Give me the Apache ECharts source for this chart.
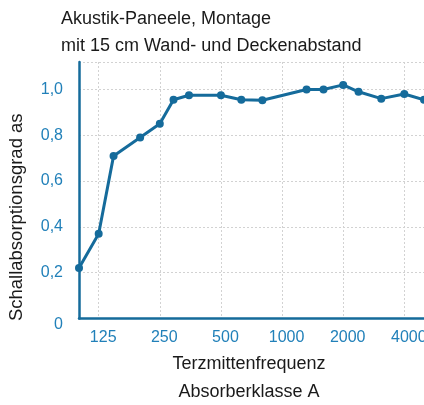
<!DOCTYPE html>
<html>
<head>
<meta charset="utf-8">
<script src="https://cdn.jsdelivr.net/npm/echarts@6/dist/echarts.min.js"></script>
<style>
  html, body { margin: 0; padding: 0; background: #fff; }
  #chart { width: 424px; height: 405px; }
</style>
</head>
<body>
<div id="chart"></div>
<script>
// Third-octave centre frequencies (Hz) of the measured points
const freqHz = [100, 125, 148, 200, 250, 292, 348, 500, 630, 800, 1320, 1600, 2000, 2380, 3080, 4000, 5000];
// Sound absorption coefficient at each frequency
const alphaS = [0.22, 0.37, 0.71, 0.79, 0.85, 0.955, 0.975, 0.975, 0.955, 0.953, 1.0, 1.0, 1.02, 0.99, 0.96, 0.98, 0.955];
// Octave frequencies shown on the x axis
const octaveTicks = [125, 250, 500, 1000, 2000, 4000];
// Absorption values shown on the y axis
const alphaTicks = [0, 0.2, 0.4, 0.6, 0.8, 1.0];

const titleLines = ['Akustik-Paneele, Montage', 'mit 15 cm Wand- und Deckenabstand'];
const xName = ['Terzmittenfrequenz', 'Absorberklasse A'];
const yName = 'Schallabsorptionsgrad as';

const FONT = '"Liberation Sans", Arial, sans-serif';
const BLUE = '#156b9b';
const LABEL_BLUE = '#2180b9';

// The frequency axis is logarithmic: positions are octaves relative to 125 Hz
const REF_HZ = 125;
const toOct = f => Math.log2(f / REF_HZ);
const fromOct = v => Math.round(REF_HZ * Math.pow(2, v));

const chart = echarts.init(document.getElementById('chart'), null, { renderer: 'canvas' });

chart.setOption({
  animation: false,
  backgroundColor: '#ffffff',
  title: {
    text: titleLines.join('\n'),
    left: 61,
    top: 6,
    padding: 0,
    textStyle: { fontFamily: FONT, fontSize: 18, fontWeight: 'normal', color: '#1a1a1a', lineHeight: 27 }
  },
  grid: { left: 79, right: 0, top: 62, bottom: 86.5, containLabel: false, outerBoundsMode: 'none' },
  xAxis: {
    type: 'value',
    min: toOct(freqHz[0]),
    max: toOct(freqHz[freqHz.length - 1]),
    name: xName.join('\n'),
    nameLocation: 'middle',
    nameGap: 28,
    nameTextStyle: { fontFamily: FONT, fontSize: 18, color: '#1a1a1a', lineHeight: 28, padding: [0, 5, 0, 0] },
    axisLine: { show: true, onZero: false, lineStyle: { color: BLUE, width: 2.5 } },
    axisTick: { show: false, customValues: octaveTicks.map(toOct) },
    axisLabel: {
      customValues: octaveTicks.map(toOct),
      formatter: v => String(fromOct(v)),
      fontFamily: FONT, fontSize: 16, color: LABEL_BLUE, margin: 11,
      padding: [0, 0, 0, 9]
    },
    splitLine: { show: true, lineStyle: { color: '#d2d2d2', width: 1, type: [2, 2] } }
  },
  yAxis: {
    type: 'value',
    min: 0,
    max: 1.12,
    interval: 0.2,
    name: yName,
    nameLocation: 'middle',
    nameGap: 53,
    nameRotate: 90,
    nameTextStyle: { fontFamily: FONT, fontSize: 18.5, color: '#1a1a1a', padding: [0, 54, 0, 0] },
    axisLine: { show: true, onZero: false, lineStyle: { color: BLUE, width: 2.5 } },
    axisTick: { show: false },
    axisLabel: {
      formatter: v => {
        if (!alphaTicks.some(t => Math.abs(t - v) < 1e-6)) return '';
        // the zero label sits a little below the axis line
        return v === 0 ? '{zero|0}' : v.toFixed(1).replace('.', ',');
      },
      rich: {
        zero: { fontFamily: FONT, fontSize: 16, color: LABEL_BLUE, padding: [12, 0, 0, 0] }
      },
      fontFamily: FONT, fontSize: 16, color: LABEL_BLUE, margin: 16
    },
    splitLine: { show: true, lineStyle: { color: '#d2d2d2', width: 1, type: [2, 2] } }
  },
  series: [{
    type: 'line',
    data: freqHz.map((f, i) => [toOct(f), alphaS[i]]),
    symbol: 'circle',
    symbolSize: 8,
    clip: false,
    lineStyle: { color: BLUE, width: 3 },
    itemStyle: { color: BLUE }
  }]
});
</script>
</body>
</html>
